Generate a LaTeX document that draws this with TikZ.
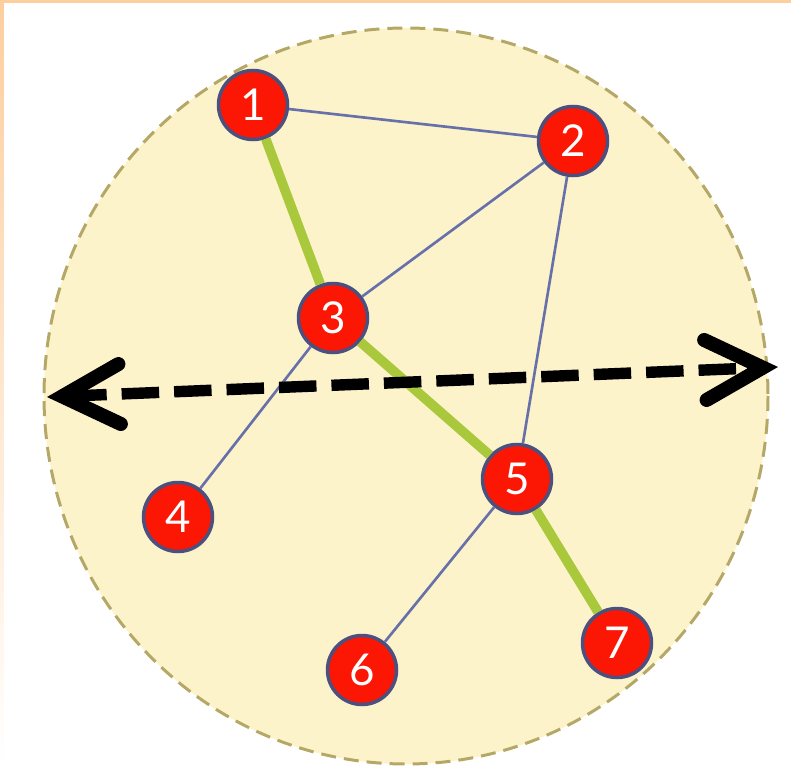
\documentclass[tikz,border=0pt]{standalone}
\usepackage{fontspec}
\setmainfont{Lato}
\usepackage{tikz}
\usetikzlibrary{arrows.meta}
\definecolor{pale}{RGB}{252,243,203}
\definecolor{rim}{RGB}{181,167,101}
\definecolor{vred}{RGB}{252,22,4}
\definecolor{vrim}{RGB}{76,80,126}
\definecolor{link}{RGB}{104,112,170}
\definecolor{tree}{RGB}{170,200,60}
\definecolor{frame}{RGB}{253,206,158}

\begin{document}
\begin{tikzpicture}
[x=0.02cm, y=-0.02cm,
 vtx/.style={circle, fill=vred, draw=vrim, line width=2pt, inner sep=0pt,
   minimum size=1.38cm, text=white, font=\fontsize{25}{25}\selectfont},
 edge/.style={line width=1.5pt, draw=link},
 treeedge/.style={line width=5.5pt, draw=tree},
 cut/.style={line width=6.5pt, dash pattern=on 0.75cm off 0.3cm,
   arrows={Straight Barb[length=1.15cm, width=1.2cm, line width=8pt, line cap=round]-Straight Barb[length=1.15cm, width=1.2cm, line width=8pt, line cap=round]}}]

\useasboundingbox (0,0) rectangle (791,770);

% frame and background disc
\fill[frame] (0,0) rectangle (791,3.5);
\shade[top color=frame, bottom color=white] (0,0) rectangle (3.5,770);
\filldraw[fill=pale, draw=rim, line width=1.7pt, dash pattern=on 0.3cm off 0.16cm]
  (406,396) ellipse [x radius=362, y radius=368];

% vertices
\node[vtx] (v1) at (253,105) {1};
\node[vtx] (v2) at (573,141) {2};
\node[vtx] (v3) at (333,318) {3};
\node[vtx] (v4) at (178,517) {4};
\node[vtx] (v5) at (517,479) {5};
\node[vtx] (v6) at (362,670) {6};
\node[vtx] (v7) at (617,643) {7};

% edges
\draw [edge] (v1) -- (v2);
\draw [edge] (v2) -- (v3);
\draw [edge] (v2) -- (v5);
\draw [edge] (v3) -- (v4);
\draw [edge] (v5) -- (v6);
\draw [treeedge] (v1) -- (v3);
\draw [treeedge] (v3) -- (v5);
\draw [treeedge] (v5) -- (v7);

% the cut
\coordinate (L) at (47,397);
\coordinate (R) at (778,367);
\draw [cut] (L) -- (R);

\end{tikzpicture}
\end{document}
